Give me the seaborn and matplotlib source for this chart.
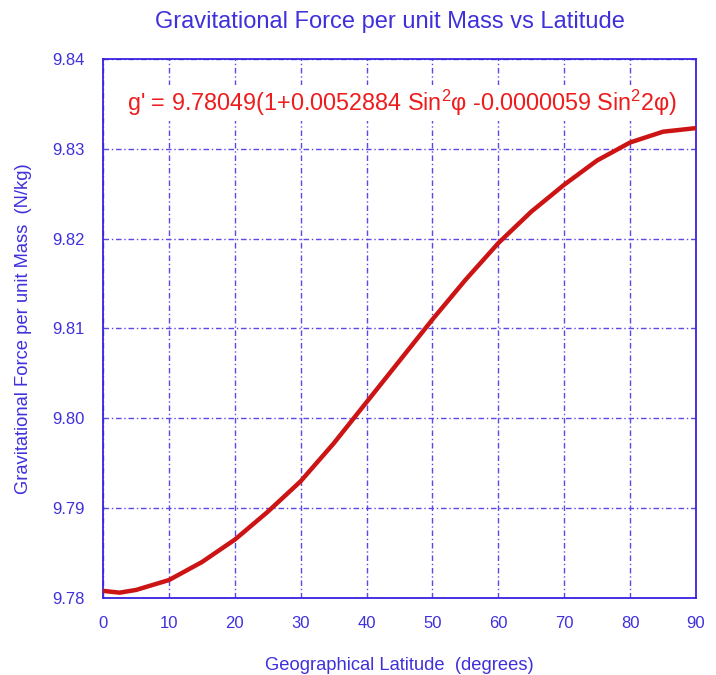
import numpy as np
import pandas as pd
import matplotlib
matplotlib.use('Agg')
import matplotlib.pyplot as plt
import seaborn as sns

# values
latitude = [0, 2.5, 5, 10, 15, 20, 25, 30, 35, 40, 45, 50, 55, 60, 65, 70, 75, 80, 85, 90]
gravity = [9.7808, 9.7806, 9.7809, 9.7820, 9.7840, 9.7865, 9.7896, 9.7930, 9.7972, 9.8018,
           9.8064, 9.8110, 9.8154, 9.8195, 9.8230, 9.8260, 9.8287, 9.8307, 9.8319, 9.8323]
xticks = [0, 10, 20, 30, 40, 50, 60, 70, 80, 90]
yticks = [9.78, 9.79, 9.80, 9.81, 9.82, 9.83, 9.84]

blue = '#3f30dc'
grid_blue = '#5b48e6'

sns.set_style('white')
plt.rcParams['font.family'] = ['Liberation Sans', 'DejaVu Sans']
plt.rcParams['mathtext.fontset'] = 'custom'
plt.rcParams['mathtext.rm'] = 'Liberation Sans'
plt.rcParams['mathtext.it'] = 'Liberation Sans'

df = pd.DataFrame({'lat': latitude, 'g': gravity})

fig = plt.figure(figsize=(7.16, 6.75), dpi=100)
ax = fig.add_axes([0.1439, 0.114, 0.8281, 0.7987])

sns.lineplot(data=df, x='lat', y='g', ax=ax, color='#cc1414', linewidth=3.2, zorder=3,
             solid_joinstyle='round', solid_capstyle='round')

ax.set_xlim(0, 90)
ax.set_ylim(9.78, 9.84)
ax.set_xticks(xticks)
ax.set_yticks(yticks)
ax.set_xticklabels([str(t) for t in xticks])
ax.set_yticklabels(['%.2f' % t for t in yticks])
ax.tick_params(colors=blue, labelcolor=blue, labelsize=12, length=0, pad=13)

ax.grid(True, color=grid_blue, linewidth=1, linestyle=(0, (4, 2, 1, 2)))
for s in ax.spines.values():
    s.set_color('#3a22e0')
    s.set_linewidth(1.3)

ax.set_xlabel('Geographical Latitude  (degrees)', color=blue, fontsize=13.2, labelpad=19)
ax.set_ylabel('Gravitational Force per unit Mass  (N/kg)', color=blue, fontsize=13.2, labelpad=15)

fig.text(0.544, 0.967, 'Gravitational Force per unit Mass vs Latitude', color=blue,
         fontsize=17, ha='center', va='center')

ax.text(0.505, 0.918, "g' = 9.78049(1+0.0052884 Sin$^{2}$\u03c6 -0.0000059 Sin$^{2}$2\u03c6)",
        transform=ax.transAxes, color='#ee1c1c', fontsize=16.8, ha='center', va='center',
        zorder=4, bbox=dict(facecolor='white', edgecolor='none', pad=2))

fig.savefig('out.png', dpi=100)
